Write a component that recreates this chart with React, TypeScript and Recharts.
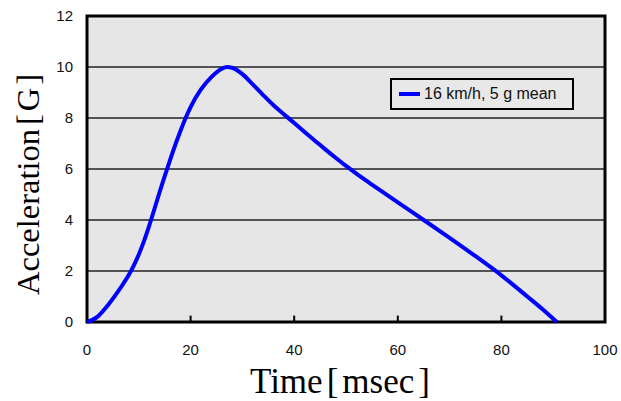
import { CartesianGrid, Label, Line, LineChart, ReferenceArea, ReferenceLine, XAxis, YAxis } from 'recharts';

const timeMs = [0, 2, 4, 6, 7, 8, 9, 10, 11, 12, 13, 14, 15, 16, 17, 18, 19, 20, 22, 24, 26, 27, 28, 30, 32, 34, 36, 38, 40, 42, 44, 46, 48, 50, 52, 55, 60, 65, 70, 75, 80, 85, 88, 90.7];
const accelG = [0, 0.2, 0.65, 1.2, 1.5, 1.82, 2.2, 2.65, 3.17, 3.77, 4.42, 5.08, 5.72, 6.33, 6.92, 7.47, 7.98, 8.43, 9.12, 9.6, 9.93, 10, 9.97, 9.72, 9.32, 8.9, 8.5, 8.15, 7.8, 7.45, 7.11, 6.77, 6.44, 6.12, 5.82, 5.39, 4.69, 4.0, 3.3, 2.58, 1.83, 1.0, 0.49, 0];
const xTicks = [0, 20, 40, 60, 80, 100];
const yTicks = [0, 2, 4, 6, 8, 10, 12];
const seriesName = '16 km/h, 5 g mean';

const data = timeMs.map((t, i) => ({ t, g: accelG[i] }));

const sans = '"Liberation Sans", Arial, sans-serif';
const serif = '"Liberation Serif", "Times New Roman", serif';

// legend sits inside the plot, so it is drawn as an overlay to keep the plot area untouched
function LegendBox() {
  return (
    <div
      style={{
        position: 'absolute',
        left: 390,
        top: 78,
        boxSizing: 'border-box',
        width: 184,
        height: 32,
        border: '2px solid #000',
        background: '#e8e8e8',
        display: 'flex',
        alignItems: 'center',
        paddingLeft: 7,
        fontFamily: sans,
        fontSize: 16,
        color: '#111',
      }}
    >
      <span style={{ display: 'inline-block', width: 21, height: 4, background: '#0000ff', marginRight: 4 }} />
      <span>{seriesName}</span>
    </div>
  );
}

export default function App() {
  return (
    <div style={{ position: 'absolute', left: 0, top: 0, width: 621, height: 401, background: '#fff' }}>
      <LineChart width={621} height={401} data={data} margin={{ top: 16, right: 16, left: 0, bottom: 0 }}>
        <CartesianGrid vertical={false} horizontal stroke="#222" strokeWidth={1.5} fill="#e6e6e6" fillOpacity={1} />
        <XAxis
          type="number"
          dataKey="t"
          domain={[0, 100]}
          ticks={xTicks}
          height={79}
          axisLine={false}
          tickLine={false}
          tickMargin={16}
          tick={{ fontSize: 15, fontFamily: sans, fill: '#111' }}
        >
          <Label
            content={() => (
              <text x={250} y={393} fontFamily={serif} fontSize={35} fill="#000">
                <tspan>Time</tspan>
                <tspan dx={4}>[</tspan>
                <tspan dx={4}>msec</tspan>
                <tspan dx={4}>]</tspan>
              </text>
            )}
          />
        </XAxis>
        <YAxis
          domain={[0, 12]}
          ticks={yTicks}
          width={87}
          axisLine={false}
          tickLine={false}
          tickMargin={8}
          tick={{ fontSize: 15, fontFamily: sans, fill: '#111' }}
        >
          <Label
            content={() => (
              <text x={39} y={295} transform="rotate(-90, 39, 295)" fontFamily={serif} fontSize={32.5} fill="#000">
                <tspan>Acceleration</tspan>
                <tspan dx={4}>[</tspan>
                <tspan dx={3}>G</tspan>
                <tspan dx={3}>]</tspan>
              </text>
            )}
          />
        </YAxis>
        {xTicks.slice(1, -1).map((v) => (
          <ReferenceLine
            key={v}
            segment={[
              { x: v, y: 0 },
              { x: v, y: 0.25 },
            ]}
            stroke="#000"
            strokeWidth={2}
          />
        ))}
        <ReferenceArea x1={0} x2={100} y1={0} y2={12} fill="none" stroke="#000" strokeWidth={3} />
        <Line
          type="monotone"
          dataKey="g"
          name={seriesName}
          stroke="#0000ff"
          strokeWidth={4}
          dot={false}
          isAnimationActive={false}
        />
      </LineChart>
      <LegendBox />
    </div>
  );
}
